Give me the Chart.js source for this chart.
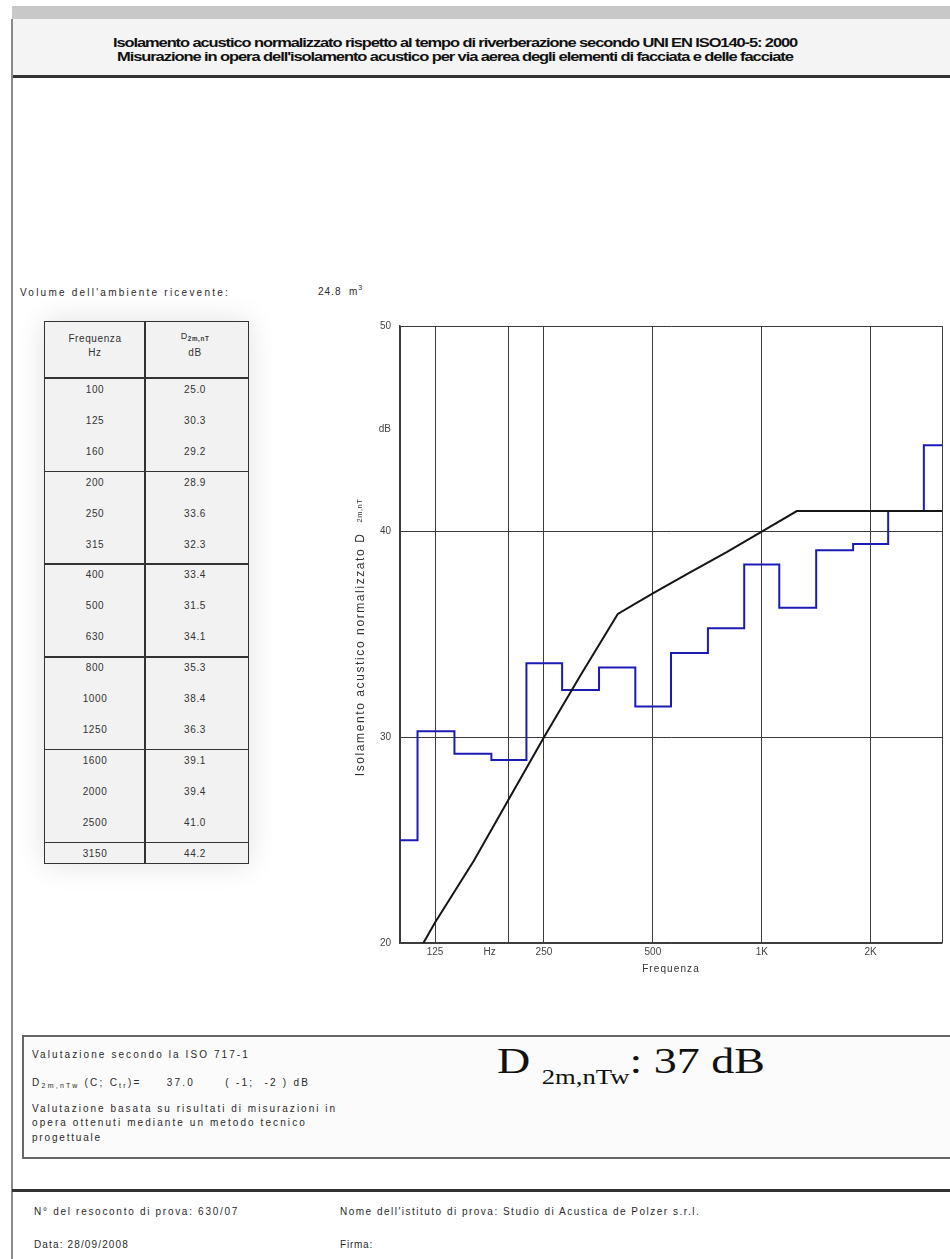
<!DOCTYPE html>
<html>
<head>
<meta charset="utf-8">
<script src="https://cdn.jsdelivr.net/npm/chart.js@4.4.1/dist/chart.umd.min.js"></script>
<style>
body { margin:0; width:950px; height:1259px; position:relative; overflow:hidden; background:#fff;
       font-family: Arial, "Liberation Sans", sans-serif; color:#2a2a2a; }
.t { position:absolute; white-space:nowrap; line-height:1; font-size:10px; }
.title { font-weight:bold; font-size:13.5px; color:#111; letter-spacing:-0.9px; transform-origin:0 50%; }
sub { font-size:70%; vertical-align:-2px; line-height:0; }
sup { font-size:70%; vertical-align:5px; line-height:0; }
#topbar { position:absolute; left:12px; top:6px; width:938px; height:13px; background:#c8c8c8; }
#header { position:absolute; left:12px; top:19px; width:938px; height:56px; background:#f4f4f4; border-bottom:3px solid #333; }
#frame { position:absolute; left:11px; top:19px; width:2px; height:1240px; background:#8a8a8a; }
#tbl { position:absolute; left:44px; top:321px; width:205px; height:543px; border:1.5px solid #333; box-sizing:border-box;
       background:#f2f2f2; box-shadow:0 0 28px rgba(0,0,0,0.12); }
#tbl .h { position:absolute; left:0; width:100%; height:1.5px; background:#333; }
#tbl .v { position:absolute; top:0; left:99px; width:1.5px; height:100%; background:#333; }
#tbl .c { position:absolute; width:100px; text-align:center; font-size:10px; line-height:1; letter-spacing:0.6px; color:#333; }
#chartBox { position:absolute; left:330px; top:310px; width:620px; height:680px; }
#evalBox { position:absolute; left:22px; top:1035px; width:940px; height:124px; border:2px solid #666; box-sizing:border-box; background:#fbfbfb; }
#sep { position:absolute; left:12px; top:1189px; width:938px; height:3px; background:#333; }
.big { position:absolute; font-family:"Liberation Serif", "Times New Roman", serif; font-size:36px; color:#111;
       white-space:nowrap; line-height:1; transform-origin:0 50%; }
.big sub { font-size:58%; vertical-align:-11px; }
</style>
</head>
<body>
<div id="topbar"></div>
<div id="header"></div>
<div id="frame"></div>

<div class="t title" style="left:113px; top:36px;" data-sx="684">Isolamento acustico normalizzato rispetto al tempo di riverberazione secondo UNI EN ISO140-5: 2000</div>
<div class="t title" style="left:117px; top:50px;" data-sx="676">Misurazione in opera dell'isolamento acustico per via aerea degli elementi di facciata e delle facciate</div>

<div class="t" style="left:20px; top:288px;" data-w="210">Volume dell'ambiente ricevente:</div>
<div class="t" style="left:318px; top:287px; letter-spacing:1px;">24.8&nbsp; m<sup>3</sup></div>

<div id="tbl"></div>

<div id="chartBox"><canvas id="dbChart"></canvas></div>

<div id="evalBox"></div>
<div class="t" style="left:32px; top:1050px;" data-w="218">Valutazione secondo la ISO 717-1</div>
<div class="t" style="left:32px; top:1078px;" data-w="278">D<sub>2m,nTw</sub>&nbsp;(C; C<sub>tr</sub>)=&nbsp;&nbsp;&nbsp;&nbsp; 37.0&nbsp;&nbsp;&nbsp;&nbsp;&nbsp; ( -1;&nbsp; -2 ) dB</div>
<div class="t" style="left:32px; top:1104px;" data-w="305">Valutazione basata su risultati di misurazioni in</div>
<div class="t" style="left:32px; top:1118px;" data-w="275">opera ottenuti mediante un metodo tecnico</div>
<div class="t" style="left:32px; top:1133px;" data-w="70">progettuale</div>
<div class="big" style="left:497px; top:1043px;" data-sx="268">D <sub>2m,nTw</sub>: 37 dB</div>

<div id="sep"></div>
<div class="t" style="left:34px; top:1207px;" data-w="205">N° del resoconto di prova: 630/07</div>
<div class="t" style="left:340px; top:1207px;" data-w="360">Nome dell'istituto di prova: Studio di Acustica de Polzer s.r.l.</div>
<div class="t" style="left:34px; top:1240px;" data-w="95">Data: 28/09/2008</div>
<div class="t" style="left:340px; top:1240px;" data-w="33">Firma:</div>

<script>
// dati della misura (bande di terzo d'ottava)
const freqs = [100, 125, 160, 200, 250, 315, 400, 500, 630, 800, 1000, 1250, 1600, 2000, 2500, 3150];
const measured = [25.0, 30.3, 29.2, 28.9, 33.6, 32.3, 33.4, 31.5, 34.1, 35.3, 38.4, 36.3, 39.1, 39.4, 41.0, 44.2];
// curva di riferimento ISO 717-1 traslata
const reference = [18, 21, 24, 27, 30, 33, 36, 37, 38, 39, 40, 41, 41, 41, 41, 41];

// etichette degli assi
const xTickValues = [100, 125, 177, 200, 250, 500, 1000, 2000, 3150];
const xTickLabels = ['', '125', 'Hz', '', '250', '500', '1K', '2K', ''];
const xGridValues = [100, 125, 200, 250, 500, 1000, 2000, 3150];
const yTickValues = [20, 30, 40, 45, 50];
const yTickLabels = ['20', '30', '40', 'dB', '50'];
const yGridValues = [20, 30, 40, 50];

// tabella a sinistra
const tbl = document.getElementById('tbl');
function addEl(cls, style, html) {
    const d = document.createElement('div');
    d.className = cls;
    d.setAttribute('style', style);
    if (html) d.innerHTML = html;
    tbl.appendChild(d);
}
addEl('v', '');
addEl('h', 'top:55px;');
addEl('c', 'left:0; top:12px;', 'Frequenza');
addEl('c', 'left:0; top:26px;', 'Hz');
addEl('c', 'left:100px; top:10px; font-size:9px;', 'D<sub style="font-weight:bold">2m,nT</sub>');
addEl('c', 'left:100px; top:26px;', 'dB');
freqs.forEach((f, i) => {
    const yc = 389 + i * 30.9 - 321;
    if (i > 0 && i % 3 === 0) addEl('h', 'top:' + (yc - 12) + 'px;');
    addEl('c', 'left:0; top:' + (yc - 5) + 'px;', String(f));
    addEl('c', 'left:100px; top:' + (yc - 5) + 'px;', measured[i].toFixed(1));
});

// adatta la spaziatura dei testi alla larghezza dell'originale
document.querySelectorAll('[data-w]').forEach(el => {
    const target = +el.dataset.w;
    const natural = el.getBoundingClientRect().width;
    const n = el.textContent.length;
    el.style.letterSpacing = ((target - natural) / n).toFixed(2) + 'px';
});
// testi stretti: compressione orizzontale
document.querySelectorAll('[data-sx]').forEach(el => {
    const target = +el.dataset.sx;
    const natural = el.getBoundingClientRect().width;
    el.style.transform = 'scaleX(' + (target / natural).toFixed(3) + ')';
});

const titlesPlugin = {
    id: 'titles',
    afterDraw(chart) {
        const { ctx, chartArea } = chart;
        ctx.save();
        ctx.fillStyle = '#333';
        // titolo asse x
        ctx.font = '10px Arial';
        ctx.letterSpacing = '1.1px';
        ctx.textAlign = 'center';
        ctx.textBaseline = 'middle';
        ctx.fillText('Frequenza', (chartArea.left + chartArea.right) / 2, chartArea.bottom + 26);
        // titolo asse y (ruotato, con pedice)
        const main = 'Isolamento acustico normalizzato D';
        const subTxt = '2m,nT';
        ctx.translate(chartArea.left - 40, (chartArea.top + chartArea.bottom) / 2 + 3);
        ctx.rotate(-Math.PI / 2);
        ctx.font = '12px Arial';
        ctx.letterSpacing = '1.6px';
        const wMain = ctx.measureText(main).width;
        ctx.font = '7.5px Arial';
        ctx.letterSpacing = '0.5px';
        const wSub = ctx.measureText(subTxt).width;
        const start = -(wMain + 10 + wSub) / 2;
        ctx.textAlign = 'left';
        ctx.textBaseline = 'alphabetic';
        ctx.font = '12px Arial';
        ctx.letterSpacing = '1.6px';
        ctx.fillText(main, start, 4);
        ctx.font = '7.5px Arial';
        ctx.letterSpacing = '0.5px';
        ctx.fillText(subTxt, start + wMain + 10, 2);
        ctx.restore();
    }
};

const ctx = document.getElementById('dbChart').getContext('2d');
const dbChart = new Chart(ctx, {
    type: 'line',
    data: {
        datasets: [{
            label: 'Riferimento',
            data: freqs.map((f, i) => ({ x: f, y: reference[i] })),
            borderColor: '#151515',
            borderWidth: 2,
            pointRadius: 0,
            tension: 0,
            order: 0
        }, {
            label: 'D2m,nT',
            data: freqs.map((f, i) => ({ x: f, y: measured[i] })),
            borderColor: '#1c1cb4',
            borderWidth: 2,
            pointRadius: 0,
            stepped: 'middle',
            order: 1
        }]
    },
    options: {
        responsive: true,
        maintainAspectRatio: false,
        animation: false,
        layout: { padding: { top: 16, right: 8, left: 0, bottom: 0 } },
        scales: {
            x: {
                type: 'logarithmic',
                min: 100,
                max: 3150,
                afterBuildTicks: (scale) => { scale.ticks = xTickValues.map(v => ({ value: v })); },
                afterFit: (scale) => { scale.height = 47; },
                ticks: {
                    autoSkip: false,
                    maxRotation: 0,
                    padding: 3,
                    color: '#444',
                    font: { family: 'Arial', size: 10 },
                    callback: (value, index) => xTickLabels[index]
                },
                grid: {
                    drawTicks: false,
                    lineWidth: 1,
                    color: (c) => (c.tick && xGridValues.includes(c.tick.value)) ? '#3c3c3c' : 'rgba(0,0,0,0)'
                },
                border: { display: true, color: '#3c3c3c', width: 1.5 }
            },
            y: {
                min: 20,
                max: 50,
                afterBuildTicks: (scale) => { scale.ticks = yTickValues.map(v => ({ value: v })); },
                afterFit: (scale) => { scale.width = 70; },
                ticks: {
                    padding: 9,
                    color: '#444',
                    font: { family: 'Arial', size: 10 },
                    callback: (value, index) => yTickLabels[index]
                },
                grid: {
                    drawTicks: false,
                    lineWidth: 1,
                    color: (c) => (c.tick && yGridValues.includes(c.tick.value)) ? '#3c3c3c' : 'rgba(0,0,0,0)'
                },
                border: { display: true, color: '#3c3c3c', width: 1.5 }
            }
        },
        plugins: {
            legend: { display: false },
            tooltip: { enabled: false }
        }
    },
    plugins: [titlesPlugin]
});
</script>
</body>
</html>
